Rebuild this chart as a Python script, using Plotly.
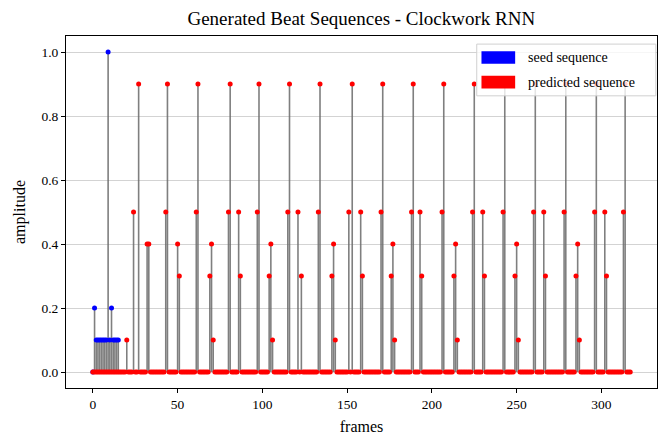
import plotly.graph_objects as go

# seed sequence (blue) - frame index and amplitude
seed_frames = [0, 1, 2, 3, 4, 5, 6, 7, 8, 9, 10, 11, 12, 13, 14, 15]
seed_values = [0.0, 0.2, 0.1, 0.1, 0.1, 0.1, 0.1, 0.1, 0.1, 1.0, 0.1, 0.2, 0.1, 0.1, 0.1, 0.1]

# predicted sequence (red): non-zero hits, every other frame up to n_frames is 0
n_frames = 318
pred_hit_frames = [
    20, 24, 27, 32, 33,
    43, 44, 50, 51,
    61, 62, 69, 70, 71,
    80, 81, 86, 87,
    97, 98, 104, 105, 106,
    115, 116, 121, 123,
    133, 134, 141, 142, 143,
    151, 153, 158, 159,
    170, 171, 176, 177, 178,
    188, 189, 193, 194,
    206, 207, 213, 214, 215,
    224, 225, 230, 231,
    242, 243, 249, 250, 251,
    260, 261, 266, 267,
    278, 279, 285, 286, 287,
    296, 297, 302, 303,
    313, 314,
]
pred_hit_values = [
    0.1, 0.5, 0.9, 0.4, 0.4,
    0.5, 0.9, 0.4, 0.3,
    0.5, 0.9, 0.3, 0.4, 0.1,
    0.5, 0.9, 0.5, 0.3,
    0.5, 0.9, 0.3, 0.4, 0.1,
    0.5, 0.9, 0.5, 0.3,
    0.5, 0.9, 0.3, 0.4, 0.1,
    0.5, 0.9, 0.5, 0.3,
    0.5, 0.9, 0.3, 0.4, 0.1,
    0.5, 0.9, 0.5, 0.3,
    0.5, 0.9, 0.3, 0.4, 0.1,
    0.5, 0.9, 0.5, 0.3,
    0.5, 0.9, 0.3, 0.4, 0.1,
    0.5, 0.9, 0.5, 0.3,
    0.5, 0.9, 0.3, 0.4, 0.1,
    0.5, 0.9, 0.5, 0.3,
    0.5, 0.9,
]

y_ticks = [0.0, 0.2, 0.4, 0.6, 0.8, 1.0]
x_ticks = [0, 50, 100, 150, 200, 250, 300]

hits = dict(zip(pred_hit_frames, pred_hit_values))
pred_frames = list(range(n_frames))
pred_values = [hits.get(f, 0.0) for f in pred_frames]

FONT = "Liberation Serif, Times New Roman, serif"


def stem_lines(frames, values):
    xs, ys = [], []
    for f, v in zip(frames, values):
        if v != 0:
            xs += [f, f, None]
            ys += [0, v, None]
    return xs, ys


fig = go.Figure()

for frames, values, color in [
    (seed_frames, seed_values, "#0000ff"),
    (pred_frames, pred_values, "#ff0000"),
]:
    sx, sy = stem_lines(frames, values)
    fig.add_trace(
        go.Scatter(
            x=sx, y=sy, mode="lines",
            line=dict(color="rgba(105,105,105,0.85)", width=1.6),
            showlegend=False, hoverinfo="skip",
        )
    )
    fig.add_trace(
        go.Scatter(
            x=frames, y=values, mode="markers",
            marker=dict(color=color, size=5, line=dict(width=0)),
            showlegend=False,
        )
    )

# matplotlib-like legend with colour patches
legend_rows = [("seed sequence", "#0000ff", 0.939), ("predicted sequence", "#ff0000", 0.869)]
shapes = [
    dict(
        type="rect", xref="paper", yref="paper",
        x0=0.695, x1=0.998, y0=0.830, y1=0.977,
        fillcolor="rgba(255,255,255,0.8)", line=dict(color="#d0d0d0", width=1),
        layer="above",
    )
]
annotations = []
for label, color, yc in legend_rows:
    shapes.append(
        dict(
            type="rect", xref="paper", yref="paper",
            x0=0.703, x1=0.760, y0=yc - 0.018, y1=yc + 0.018,
            fillcolor=color, line=dict(width=0), layer="above",
        )
    )
    annotations.append(
        dict(
            text=label, xref="paper", yref="paper", x=0.778, y=yc,
            xanchor="left", yanchor="middle", showarrow=False,
            font=dict(family=FONT, size=14, color="#000000"),
        )
    )

fig.update_layout(
    width=663, height=438,
    margin=dict(l=66, r=6, t=36, b=50),
    paper_bgcolor="white", plot_bgcolor="white",
    title=dict(
        text="Generated Beat Sequences - Clockwork RNN",
        x=0.545, xanchor="center", y=0.959, yanchor="middle",
        font=dict(family=FONT, size=19, color="#000000"),
    ),
    font=dict(family=FONT, size=13.5, color="#000000"),
    shapes=shapes,
    annotations=annotations,
    showlegend=False,
)

fig.update_xaxes(
    range=[-15.85, 332.8], tickvals=x_ticks,
    showgrid=False, zeroline=False,
    showline=True, linecolor="#000000", linewidth=1, mirror=True,
    ticks="outside", ticklen=4, tickcolor="#000000",
    title=dict(text="frames", font=dict(family=FONT, size=16), standoff=9),
)
fig.update_yaxes(
    range=[-0.05, 1.05], tickvals=y_ticks, tickformat=".1f",
    showgrid=True, gridcolor="#d3d3d3", gridwidth=1, zeroline=False,
    showline=True, linecolor="#000000", linewidth=1, mirror=True,
    ticks="outside", ticklen=4, tickcolor="#000000",
    title=dict(text="amplitude", font=dict(family=FONT, size=16), standoff=11),
)

fig.write_html(
    "out.html",
    config={"displayModeBar": False},
    post_script="document.body.style.margin='0';",
)
